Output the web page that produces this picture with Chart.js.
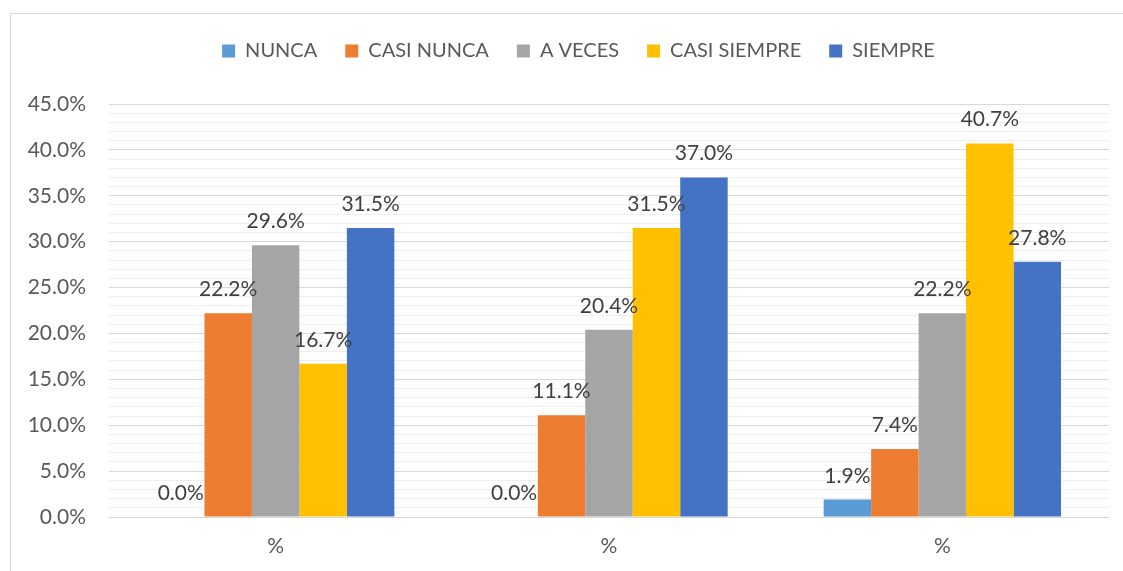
<!DOCTYPE html>
<html>
<head>
<meta charset="utf-8">
<script src="https://cdn.jsdelivr.net/npm/chart.js@4.4.1/dist/chart.umd.min.js"></script>
<style>
  html, body { margin: 0; padding: 0; background: #ffffff; }
  #wrap { position: relative; width: 1123px; height: 571px; overflow: hidden; }
  #frame { position: absolute; left: 10px; top: 13px; width: 1200px; height: 700px;
           border-left: 1px solid #d9d9d9; border-top: 1px solid #d9d9d9; pointer-events: none; }
  canvas { position: absolute; left: 0; top: 0; }
</style>
</head>
<body>
<div id="wrap">
  <div id="frame"></div>
  <canvas id="c" width="1123" height="571"></canvas>
</div>
<script>
const categories = ['%', '%', '%'];
const seriesNames = ['NUNCA', 'CASI NUNCA', 'A VECES', 'CASI SIEMPRE', 'SIEMPRE'];
const nunca       = [0.0, 0.0, 1.9];
const casiNunca   = [22.2, 11.1, 7.4];
const aVeces      = [29.6, 20.4, 22.2];
const casiSiempre = [16.7, 31.5, 40.7];
const siempre     = [31.5, 37.0, 27.8];
const seriesColors = ['#5B9BD5', '#ED7D31', '#A5A5A5', '#FFC000', '#4472C4'];
const yTickMin = 0, yTickMax = 45, yMajorStep = 5;

const FONT = 'Lato, "Open Sans", sans-serif';
const LEGEND_SHIFT = 24;

const dataLabels = {
  id: 'dataLabels',
  afterDatasetsDraw(chart) {
    const ctx = chart.ctx;
    ctx.save();
    ctx.font = '21px ' + FONT;
    ctx.fillStyle = '#404040';
    ctx.textAlign = 'center';
    ctx.textBaseline = 'alphabetic';
    chart.data.datasets.forEach((ds, i) => {
      const meta = chart.getDatasetMeta(i);
      meta.data.forEach((bar, j) => {
        const v = ds.data[j];
        ctx.fillText(v.toFixed(1) + '%', bar.x, bar.y - 17);
      });
    });
    ctx.restore();
  }
};

const legendTune = {
  id: 'legendTune',
  afterInit(chart) {
    const lg = chart.legend;
    if (!lg) return;
    const orig = lg.fit.bind(lg);
    lg.fit = function () { orig(); this.height = 91; };
  },
  afterLayout(chart) {
    const lg = chart.legend;
    if (!lg) return;
    lg.left += LEGEND_SHIFT;
    lg.right += LEGEND_SHIFT;
  }
};

const seriesData = [nunca, casiNunca, aVeces, casiSiempre, siempre];

new Chart(document.getElementById('c'), {
  type: 'bar',
  data: {
    labels: categories,
    datasets: seriesNames.map((n, i) => ({
      label: n,
      data: seriesData[i],
      backgroundColor: seriesColors[i],
      borderWidth: 0,
      categoryPercentage: 0.712,
      barPercentage: 1.0
    }))
  },
  options: {
    responsive: false,
    animation: false,
    devicePixelRatio: 1,
    layout: { padding: { left: 0, right: 14, top: 13, bottom: 0 } },
    plugins: {
      legend: {
        position: 'top',
        labels: {
          boxWidth: 13, boxHeight: 13, padding: 28,
          color: '#595959',
          font: { family: FONT, size: 20 }
        }
      },
      tooltip: { enabled: false }
    },
    scales: {
      x: {
        grid: { display: false, drawTicks: false },
        border: { display: false },
        ticks: { color: '#595959', font: { family: FONT, size: 21 }, padding: 17 },
        afterFit(s) { s.height = 54; }
      },
      y: {
        min: yTickMin, max: yTickMax,
        grid: {
          drawTicks: false,
          color: c => (c.tick && c.tick.value % yMajorStep === 0) ? '#d9d9d9' : '#efefef',
          lineWidth: 1
        },
        border: { display: false },
        ticks: {
          stepSize: 1, autoSkip: false, maxTicksLimit: 100,
          padding: 23,
          color: '#595959', font: { family: FONT, size: 21 },
          callback: v => (v % yMajorStep === 0) ? v.toFixed(1) + '%' : ''
        },
        afterFit(s) { s.width = 109; }
      }
    }
  },
  plugins: [legendTune, dataLabels]
});
</script>
</body>
</html>
